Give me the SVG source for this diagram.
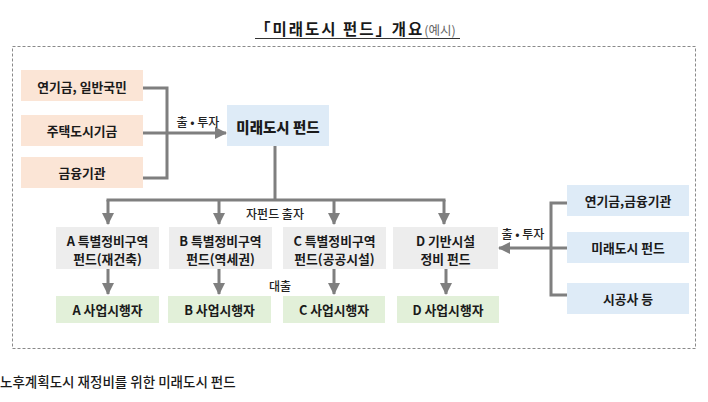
<svg xmlns="http://www.w3.org/2000/svg" width="708" height="402" viewBox="0 0 708 402">
<style>
text{font-family:"Noto Sans CJK KR","Noto Sans",sans-serif;fill:#1a1a1a}
.b{font-size:12.8px;font-weight:700;text-anchor:middle;dominant-baseline:central}
.lbl{font-size:12px;font-weight:500;text-anchor:middle;dominant-baseline:central;fill:#222}
.peach{fill:#fbe5d6}
.blue{fill:#deebf7}
.grey{fill:#ededed}
.green{fill:#e2f0d9}
.ln{fill:none;stroke:#7f7f7f;stroke-width:3}
</style>
<defs>
<marker id="ah" markerUnits="userSpaceOnUse" markerWidth="12" markerHeight="12" viewBox="0 0 12 12" refX="11" refY="6" orient="auto">
<path d="M0,0 L12,6 L0,12 Z" fill="#7f7f7f"/>
</marker>
</defs>
<rect width="708" height="402" fill="#fff"/>
<g id="title">
<text x="255" y="35" style="font-size:15.5px;font-weight:700;letter-spacing:2px">「미래도시 펀드<tspan style="letter-spacing:0">」</tspan><tspan style="letter-spacing:-3px"> </tspan>개요<tspan style="font-size:12.5px;font-weight:400;letter-spacing:0;fill:#666">(예시)</tspan></text>
<line x1="255" y1="38.5" x2="460" y2="38.5" stroke="#333" stroke-width="1"/>
</g>
<rect id="frame" x="12.5" y="46.5" width="683" height="302" fill="none" stroke="#8a8a8a" stroke-width="1" stroke-dasharray="3,2"/>
<g id="src1"><rect class="peach" x="21" y="70" width="122" height="31"/><text class="b" x="82" y="86">연기금, 일반국민</text></g>
<g id="src2"><rect class="peach" x="21" y="115" width="122" height="31"/><text class="b" x="82" y="130">주택도시기금</text></g>
<g id="src3"><rect class="peach" x="21" y="157" width="122" height="31"/><text class="b" x="82" y="172">금융기관</text></g>
<g id="fund"><rect class="blue" x="227" y="105" width="102" height="41"/><text class="b" x="278" y="126" style="font-size:14.5px;font-weight:900">미래도시 펀드</text></g>
<g id="fa"><rect class="grey" x="56" y="227" width="103" height="42"/><text class="b" x="107.5" y="240">A 특별정비구역</text><text class="b" x="107.5" y="258">펀드(재건축)</text></g>
<g id="fb"><rect class="grey" x="169" y="227" width="103" height="42"/><text class="b" x="220.5" y="240">B 특별정비구역</text><text class="b" x="220.5" y="258">펀드(역세권)</text></g>
<g id="fc"><rect class="grey" x="283" y="227" width="103" height="42"/><text class="b" x="334.5" y="240">C 특별정비구역</text><text class="b" x="334.5" y="258">펀드(공공시설)</text></g>
<g id="fd"><rect class="grey" x="393" y="227" width="105" height="42"/><text class="b" x="445.5" y="240">D 기반시설</text><text class="b" x="445.5" y="258">정비 펀드</text></g>
<g id="ea"><rect class="green" x="56" y="296" width="103" height="27"/><text class="b" x="107.5" y="309.5">A 사업시행자</text></g>
<g id="eb"><rect class="green" x="168" y="296" width="103" height="27"/><text class="b" x="219.5" y="309.5">B 사업시행자</text></g>
<g id="ec"><rect class="green" x="283" y="296" width="102" height="27"/><text class="b" x="334" y="309.5">C 사업시행자</text></g>
<g id="ed"><rect class="green" x="397" y="296" width="102" height="27"/><text class="b" x="448" y="309.5">D 사업시행자</text></g>
<g id="r1"><rect class="blue" x="567" y="185" width="122" height="31"/><text class="b" x="628" y="200.5">연기금,금융기관</text></g>
<g id="r2"><rect class="blue" x="567" y="232" width="122" height="31"/><text class="b" x="628" y="247.5">미래도시 펀드</text></g>
<g id="r3"><rect class="blue" x="567" y="283" width="122" height="31"/><text class="b" x="628" y="298.5">시공사 등</text></g>
<g id="connectors">
<polyline class="ln" points="143,88 167,88 167,178 143,178"/>
<line class="ln" x1="143" y1="133" x2="226" y2="133" marker-end="url(#ah)"/>
<line class="ln" x1="275" y1="146" x2="275" y2="200"/>
<line class="ln" x1="106.5" y1="200" x2="445.5" y2="200"/>
<line class="ln" x1="108" y1="200" x2="108" y2="224" marker-end="url(#ah)"/>
<line class="ln" x1="219" y1="200" x2="219" y2="224" marker-end="url(#ah)"/>
<line class="ln" x1="334" y1="200" x2="334" y2="224" marker-end="url(#ah)"/>
<line class="ln" x1="444" y1="200" x2="444" y2="224" marker-end="url(#ah)"/>
<line class="ln" x1="108" y1="269" x2="108" y2="294" marker-end="url(#ah)"/>
<line class="ln" x1="219" y1="269" x2="219" y2="294" marker-end="url(#ah)"/>
<line class="ln" x1="334" y1="269" x2="334" y2="294" marker-end="url(#ah)"/>
<line class="ln" x1="446" y1="269" x2="446" y2="294" marker-end="url(#ah)"/>
<polyline class="ln" points="567,203 551,203 551,295 567,295"/>
<line class="ln" x1="567" y1="248" x2="551" y2="248"/>
<line class="ln" x1="551" y1="248" x2="499" y2="248" marker-end="url(#ah)"/>
<text class="lbl" x="198" y="121">출 • 투자</text>
<text class="lbl" x="275" y="213">자펀드 출자</text>
<text class="lbl" x="280" y="285">대출</text>
<text class="lbl" x="523" y="233">출 • 투자</text>
</g>
<text x="0" y="387" style="font-size:13.5px;font-weight:500;fill:#1a1a1a">노후계획도시 재정비를 위한 미래도시 펀드</text>
</svg>
